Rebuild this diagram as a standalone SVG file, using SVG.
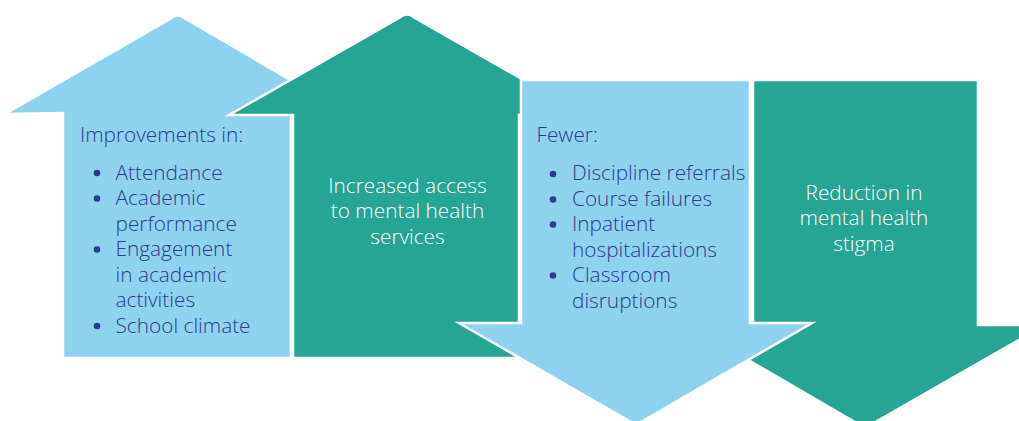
<svg xmlns="http://www.w3.org/2000/svg" width="1019" height="421" viewBox="0 0 1019 421">
<style>
.blue{fill:#8DD3F0;stroke:#fff;stroke-width:2.5;stroke-linejoin:miter}
.green{fill:#26A494;stroke:#fff;stroke-width:2.5;stroke-linejoin:miter}
.dk{font-family:"Open Sans","Liberation Sans",sans-serif;font-size:20.8px;font-weight:300;fill:#2E3A93}
.wt{font-family:"Open Sans","Liberation Sans",sans-serif;font-size:20.8px;font-weight:300;fill:#fff;text-anchor:middle}
.dot{fill:#2E3A93}
</style>
<rect width="1019" height="421" fill="#fff"/>
<g id="connectors"/>
<g id="node-improvements">
<path class="blue" d="M5 114 L170 19 Q178 12 186 19 L347 113 L291 113 L291 358 L63 358 L63 113 Z"/>
<text class="dk" x="80" y="142">Improvements in:</text>
<circle class="dot" cx="97" cy="173" r="3.3"/>
<circle class="dot" cx="97" cy="198.5" r="3.3"/>
<circle class="dot" cx="97" cy="249.5" r="3.3"/>
<circle class="dot" cx="97" cy="326" r="3.3"/>
<text class="dk" x="115.5" y="179.5">Attendance</text>
<text class="dk" x="115.5" y="205">Academic</text>
<text class="dk" x="115.5" y="230.5">performance</text>
<text class="dk" x="115.5" y="256">Engagement</text>
<text class="dk" x="115.5" y="281.5">in academic</text>
<text class="dk" x="115.5" y="307">activities</text>
<text class="dk" x="115.5" y="332.5">School climate</text>
</g>
<g id="node-access">
<path class="green" d="M229 115 L399 18 Q407 11 415 18 L585 115 L519 115 L519 358 L293 358 L293 115 Z"/>
<text class="wt" x="407.5" y="192.5">Increased access</text>
<text class="wt" x="407.5" y="218">to mental health</text>
<text class="wt" x="407.5" y="243.5">services</text>
</g>
<g id="node-stigma">
<path class="green" d="M753 80 L978 80 L978 325 L1045 325 L865 428 L688 325 L753 325 Z"/>
<text class="wt" x="864" y="199.5">Reduction in</text>
<text class="wt" x="864" y="225">mental health</text>
<text class="wt" x="864" y="250.5">stigma</text>
</g>
<g id="node-fewer">
<path class="blue" d="M521 80 L750 80 L750 323 L812 323 L636 425 L459 323 L521 323 Z"/>
<text class="dk" x="536.5" y="142">Fewer:</text>
<circle class="dot" cx="553" cy="174" r="3.3"/>
<circle class="dot" cx="553" cy="199.5" r="3.3"/>
<circle class="dot" cx="553" cy="224.5" r="3.3"/>
<circle class="dot" cx="553" cy="275.5" r="3.3"/>
<text class="dk" x="572" y="180">Discipline referrals</text>
<text class="dk" x="572" y="205.5">Course failures</text>
<text class="dk" x="572" y="231">Inpatient</text>
<text class="dk" x="572" y="256.5">hospitalizations</text>
<text class="dk" x="572" y="282">Classroom</text>
<text class="dk" x="572" y="307.5">disruptions</text>
</g>
</svg>
